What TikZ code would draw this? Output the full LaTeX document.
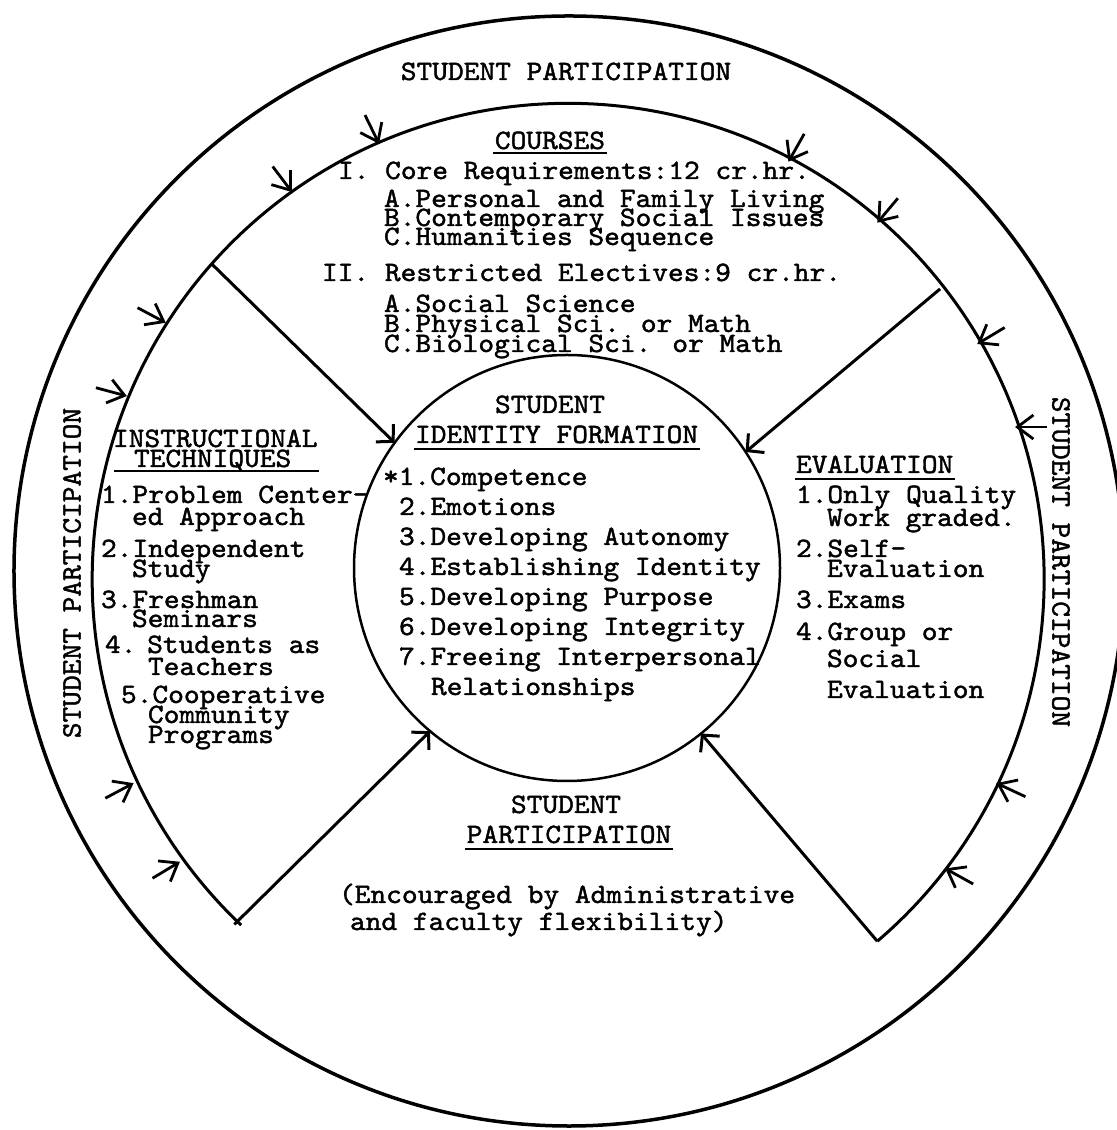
\documentclass[tikz,border=0pt]{standalone}
\usepackage{fontspec}
\newfontfamily\tw{lmmono10-regular.otf}[FakeStretch=1.07,FakeBold=1.5]
\usetikzlibrary{arrows.meta,calc}
\newcommand\smallarr[2]{\draw[smallarrow] ($(inner.#1)+(#2:32bp)$) -- (inner.#1);}
\newcommand\linestack[2]{\vtop{\baselineskip=#1\lineskiplimit=-1000bp\lineskip=0bp\relax #2}}
\begin{document}
\begin{tikzpicture}[x=1bp,y=1bp,
  txt/.style={font=\tw\fontsize{28bp}{30bp}\selectfont, inner sep=0pt, outer sep=0pt, anchor=base west},
  ctxt/.style={txt, anchor=base},
  vtxt/.style={txt, anchor=center},
  ring/.style={circle, inner sep=0pt, outer sep=0pt},
  uline/.style={line width=1.8bp},
  bigarrow/.style={line width=3bp, -{Straight Barb[length=12bp,width=25bp]}},
  smallarrow/.style={line width=2.8bp, -{Straight Barb[length=16bp,width=24bp]}}]
\useasboundingbox (0,0) rectangle (1117,1130);
\fill[white] (0,0) rectangle (1117,1130);
% rings
\node[ring, draw, line width=3.5bp, minimum size=1110bp] (outer) at (569,559) {};
\node[ring, minimum size=952bp] (inner) at (565,548) {};
\draw[line width=3bp] (inner.-49.5) arc[start angle=-49.5, end angle=226.6, radius=476];
\node[ring, draw, line width=2.5bp, minimum size=426bp] (core) at (567,562) {};
% X connectors
\draw[bigarrow] (inner.138.7) -- (core.144.3);
\draw[bigarrow] (inner.38.1) -- (core.33.4);
\draw[bigarrow] (inner.226.6) -- (core.230.4);
\draw[bigarrow] (inner.-49.5) -- (core.-51.2);
% small arrows on the inner ring
\smallarr{113.5}{116}
\smallarr{125.6}{127}
\smallarr{147.4}{152}
\smallarr{157.2}{165}
\smallarr{205.7}{208}
\smallarr{216.8}{211}
\smallarr{62.5}{60.5}
\smallarr{49.2}{50}
\smallarr{30.7}{31}
\smallarr{19.9}{0}
\smallarr{-25.8}{-25}
\smallarr{-37.9}{-29}
% outer ring labels
\node[ctxt] (sptop) at (566,1050) {STUDENT PARTICIPATION};
\node[vtxt, rotate=90] (spleft) at (72,557) {STUDENT PARTICIPATION};
\node[vtxt, rotate=-90] (spright) at (1061,568) {STUDENT PARTICIPATION};
% courses
\node[ctxt] (courses) at (550,981) {COURSES};
\draw[uline] ([xshift=-2bp,yshift=-4bp]courses.base west) -- ([xshift=2bp,yshift=-4bp]courses.base east);
\node[txt] (c1) at (338,951) {I. Core Requirements:12 cr.hr.};
\node[txt] (c1x) at (384,923) {\linestack{19bp}{\hbox{A.Personal and Family Living}\hbox{B.Contemporary Social Issues}\hbox{C.Humanities Sequence}}};
\node[txt] (c2) at (322,849) {II. Restricted Electives:9 cr.hr.};
\node[txt] (c2x) at (384,818) {\linestack{20bp}{\hbox{A.Social Science}\hbox{B.Physical Sci. or Math}\hbox{C.Biological Sci. or Math}}};
% centre
\node[ctxt] (sidA) at (550,717) {STUDENT};
\node[txt] (sidB) at (415,687) {IDENTITY FORMATION};
\draw[uline] ([xshift=-1bp,yshift=-6bp]sidB.base west) -- ([xshift=2bp,yshift=-6bp]sidB.base east);
\node[txt] (s1) at (383,645) {*1.Competence};
\node[txt] (s2) at (399,615) {2.Emotions};
\node[txt] (s3) at (399,585) {3.Developing Autonomy};
\node[txt] (s4) at (399,555) {4.Establishing Identity};
\node[txt] (s5) at (399,525) {5.Developing Purpose};
\node[txt] (s6) at (399,495) {6.Developing Integrity};
\node[txt] (s7) at (399,465) {\linestack{30bp}{\hbox{7.Freeing Interpersonal}\hbox{\kern32bp Relationships}}};
% instructional techniques
\node[txt] (instr) at (113,683) {INSTRUCTIONAL};
\node[txt] (techn) at (134,663) {TECHNIQUES};
\draw[uline] ($(instr.base west |- techn.base)+(1,-4)$) -- ($(instr.base east |- techn.base)+(2,-4)$);
\node[txt] (i1) at (101,627) {\linestack{22bp}{\hbox{1.Problem Center-}\hbox{\kern31bp ed Approach}}};
\node[txt] (i2) at (101,573) {\linestack{20bp}{\hbox{2.Independent}\hbox{\kern31bp Study}}};
\node[txt] (i3) at (101,522) {\linestack{19bp}{\hbox{3.Freshman}\hbox{\kern31bp Seminars}}};
\node[txt] (i4) at (105,477) {\linestack{22bp}{\hbox{4.\kern-5bp\ Students as}\hbox{\kern43bp Teachers}}};
\node[txt] (i5) at (121,427) {\linestack{20bp}{\hbox{5.Cooperative}\hbox{\kern27bp Community}\hbox{\kern27bp Programs}}};
% evaluation
\node[txt] (eval) at (796,657) {EVALUATION};
\draw[uline] ([xshift=-1bp,yshift=-6bp]eval.base west) -- ([xshift=2bp,yshift=-6bp]eval.base east);
\node[txt] (e1) at (796,627) {\linestack{23bp}{\hbox{1.Only Quality}\hbox{\kern31bp Work graded.}}};
\node[txt] (e2) at (796,573) {\linestack{20bp}{\hbox{2.Self-}\hbox{\kern31bp Evaluation}}};
\node[txt] (e3) at (796,522) {3.Exams};
\node[txt] (e4) at (796,490) {4.Group or};
\node[txt] (e4b) at (827,463) {Social};
\node[txt] (e4c) at (827,432) {Evaluation};
% bottom
\node[ctxt] (spA) at (566,317) {STUDENT};
\node[ctxt] (spB) at (569,287) {PARTICIPATION};
\draw[uline] ([xshift=-2bp,yshift=-6bp]spB.base west) -- ([xshift=2bp,yshift=-6bp]spB.base east);
\node[txt] (enc) at (339,227) {\linestack{27bp}{\hbox{(Encouraged by Administrative}\hbox{\kern11bp and faculty flexibility)}}};
\end{tikzpicture}
\end{document}
